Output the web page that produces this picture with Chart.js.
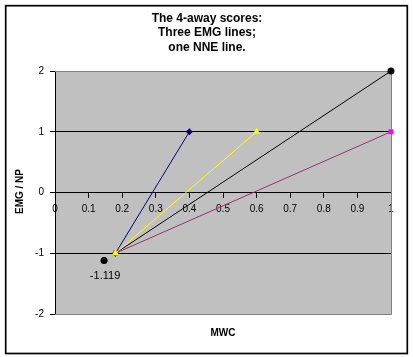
<!DOCTYPE html>
<html>
<head>
<meta charset="utf-8">
<script src="https://cdn.jsdelivr.net/npm/chart.js@4/dist/chart.umd.min.js"></script>
<style>
html,body{margin:0;padding:0;background:#fff;}
canvas{display:block;}
</style>
</head>
<body>
<canvas id="c" width="413" height="357"></canvas>
<script>
// ---- data ----
const titleLines = ["The 4-away scores:", "Three EMG lines;", "one NNE line."];
const xTitle = "MWC";
const yTitle = "EMG / NP";
const blueX = [0.18, 0.4];
const blueY = [-1, 1];
const yellowX = [0.18, 0.6];
const yellowY = [-1, 1];
const blackX = [0.18, 1];
const blackY = [-1, 2];
const nneX = [0.18, 1];
const nneY = [-1, 1];
const dotX = [0.146];
const dotY = [-1.119];
const xMin = 0, xMax = 1, xStep = 0.1;
const yMin = -2, yMax = 2, yStep = 1;

function pts(xs, ys){ return xs.map((x,i)=>({x:x, y:ys[i]})); }

const FONT = "'Liberation Sans', Arial, sans-serif";
Chart.defaults.color = '#000';
Chart.defaults.font.family = FONT;

const deco = {
  id: 'deco',
  beforeDraw(chart){
    const {ctx, chartArea:a} = chart;
    ctx.save();
    ctx.fillStyle = '#fff';
    ctx.fillRect(0,0,chart.width,chart.height);
    ctx.fillStyle = '#C0C0C0';
    ctx.fillRect(a.left, a.top, a.right-a.left, a.bottom-a.top);
    ctx.restore();
  },
  beforeDatasetsDraw(chart){
    const {ctx, chartArea:a} = chart;
    ctx.save();
    ctx.strokeStyle = '#808080';
    ctx.lineWidth = 1;
    ctx.beginPath();
    ctx.moveTo(a.left, Math.round(a.top)+0.5);
    ctx.lineTo(Math.round(a.right)+0.5, Math.round(a.top)+0.5);
    ctx.lineTo(Math.round(a.right)+0.5, Math.round(a.bottom)+0.5);
    ctx.lineTo(a.left, Math.round(a.bottom)+0.5);
    ctx.stroke();
    ctx.restore();
  },
  afterDraw(chart){
    const {ctx, chartArea:a, scales} = chart;
    ctx.save();
    // outer border
    ctx.strokeStyle = '#000';
    ctx.lineWidth = 1.7;
    ctx.strokeRect(5.7, 5.7, 401.6, 347.8);
    // title
    ctx.fillStyle = '#000';
    ctx.textAlign = 'center';
    ctx.textBaseline = 'middle';
    ctx.font = 'bold 12px ' + FONT;
    titleLines.forEach((t,i)=>ctx.fillText(t, 207, 18.5 + i*14.5));
    // axis titles
    ctx.font = 'bold 10px ' + FONT;
    ctx.fillText(xTitle, (a.left+a.right)/2, 333);
    ctx.save();
    ctx.translate(20, (a.top+a.bottom)/2 - 1);
    ctx.rotate(-Math.PI/2);
    ctx.fillText(yTitle, 0, 0);
    ctx.restore();
    // data label
    ctx.font = '11px ' + FONT;
    const px = scales.x.getPixelForValue(dotX[0]);
    const py = scales.y.getPixelForValue(dotY[0]);
    ctx.fillText(dotY[0].toFixed(3), px + 1, py + 15);
    ctx.restore();
  }
};

new Chart(document.getElementById('c'), {
  type: 'scatter',
  data: {
    datasets: [
      { label: 'EMG 3', data: pts(yellowX, yellowY), showLine: true, clip: false,
        borderColor: '#FFFF00', backgroundColor: '#FFFF00', borderWidth: 1,
        pointStyle: 'triangle', pointRadius: 4, pointBorderWidth: 0 },
      { label: 'NNE', data: pts(nneX, nneY), showLine: true, clip: false,
        borderColor: '#993366', backgroundColor: '#FF00FF', borderWidth: 1,
        pointStyle: 'rect', pointRadius: 3.5, pointBorderWidth: 0 },
      { label: 'EMG 1', data: pts(blueX, blueY), showLine: true, clip: false,
        borderColor: '#000080', backgroundColor: '#000080', borderWidth: 1,
        pointStyle: 'rectRot', pointRadius: 3.5, pointBorderWidth: 0 },
      { label: 'EMG 2', data: pts(blackX, blackY), showLine: true, clip: false,
        borderColor: '#000', backgroundColor: '#000', borderWidth: 1,
        pointStyle: 'circle', pointRadius: [0, 3.5], pointBorderWidth: 0 },
      { label: 'point', data: pts(dotX, dotY), showLine: false, clip: false,
        borderColor: '#000', backgroundColor: '#000',
        pointStyle: 'circle', pointRadius: 3.5, pointBorderWidth: 0 }
    ]
  },
  options: {
    responsive: false,
    animation: false,
    events: [],
    layout: { padding: { top: 71, right: 22, bottom: 43, left: 0 } },
    plugins: { legend: { display: false }, title: { display: false }, tooltip: { enabled: false } },
    scales: {
      x: {
        type: 'linear', min: xMin, max: xMax,
        position: { y: 0 },
        afterBuildTicks(s){ s.ticks = []; for (let i = 0; i <= 10; i++) s.ticks.push({value: +(xMin + i*xStep).toFixed(1)}); },
        ticks: { autoSkip: false, maxRotation: 0, padding: 6, font: { size: 10 }, color: '#000',
          callback: v => String(+v.toFixed(1)) },
        grid: { drawOnChartArea: false, drawTicks: true, tickLength: 5, color: '#000', tickColor: '#000' },
        border: { color: '#000', width: 1 }
      },
      y: {
        type: 'linear', min: yMin, max: yMax,
        position: 'left',
        afterFit(s){ s.width = 55; },
        ticks: { stepSize: yStep, padding: 6, font: { size: 10 }, color: '#000' },
        grid: { drawTicks: true, tickLength: 5, tickColor: '#000',
          color: c => (c.tick && (c.tick.value === yMax || c.tick.value === yMin)) ? 'rgba(0,0,0,0)' : '#000' },
        border: { color: '#000', width: 1 }
      }
    }
  },
  plugins: [deco]
});
</script>
</body>
</html>
